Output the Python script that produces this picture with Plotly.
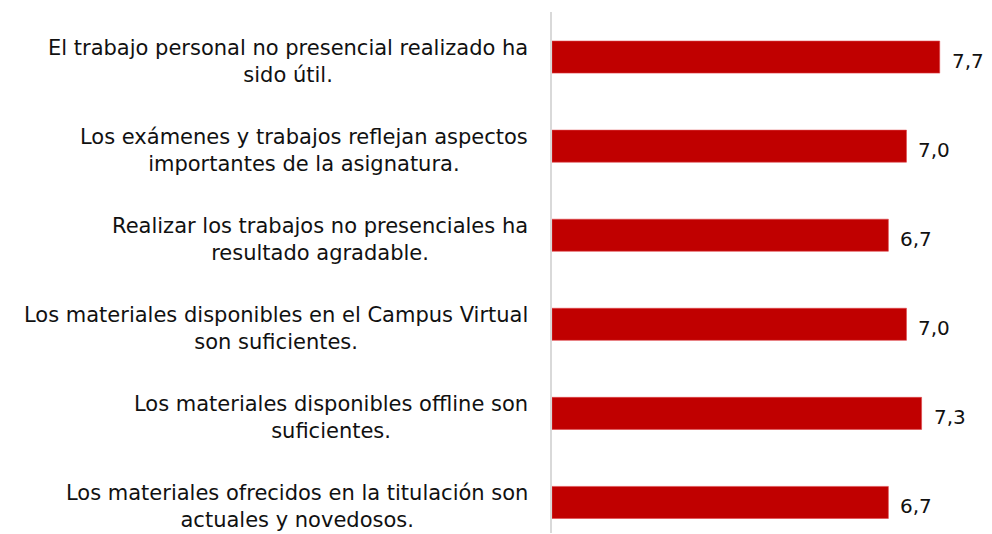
import plotly.graph_objects as go

# preguntas (de arriba a abajo) y puntuaciones medias
preguntas = [
    "El trabajo personal no presencial realizado ha<br>sido útil.",
    "Los exámenes y trabajos reflejan aspectos<br>importantes de la asignatura.",
    "Realizar los trabajos no presenciales ha<br>resultado agradable.",
    "Los materiales disponibles en el Campus Virtual<br>son suficientes.",
    "Los materiales disponibles offline son<br>suficientes.",
    "Los materiales ofrecidos en la titulación son<br>actuales y novedosos.",
]
puntuacion = [7.7, 7.04, 6.68, 7.04, 7.34, 6.68]

fig = go.Figure()
fig.add_bar(
    y=preguntas, x=puntuacion, orientation="h",
    width=0.36,
    marker=dict(color="#C00000", line=dict(color="#E0474C", width=0.6)),
)

# etiquetas de las preguntas, centradas en dos lineas
for p in preguntas:
    fig.add_annotation(
        x=0, xref="paper", y=p, yref="y", text=p,
        xanchor="right", yanchor="middle", xshift=-22, yshift=-4,
        align="center", showarrow=False,
        font=dict(family="DejaVu Sans", size=21, color="#111111"),
    )

# valores al final de cada barra
for p, v in zip(preguntas, puntuacion):
    fig.add_annotation(
        x=v, xref="x", y=p, yref="y", text=f"{v:.1f}".replace(".", ","),
        xanchor="left", yanchor="middle", xshift=10, yshift=-4,
        showarrow=False,
        font=dict(family="DejaVu Sans", size=20, color="#111111"),
    )

# la pagina tiene 8px de margen en el body, por eso 984 de ancho
fig.update_layout(
    width=984, height=526,
    margin=dict(l=544, r=12, t=4, b=1),
    plot_bgcolor="white", paper_bgcolor="white",
    showlegend=False,
    xaxis=dict(range=[0, 8.5], visible=False),
    yaxis=dict(range=[5.343, -0.506], showticklabels=False, showgrid=False,
               showline=True, linecolor="#D9D9D9", linewidth=2, ticks=""),
)

fig.write_html("out.html")
